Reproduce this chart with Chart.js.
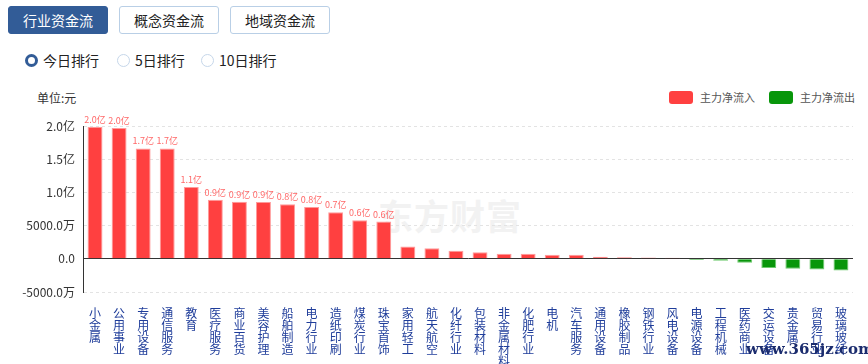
<!DOCTYPE html>
<html>
<head>
<meta charset="utf-8">
<script src="https://cdn.jsdelivr.net/npm/chart.js@4"></script>
<style>
  body { margin: 0; background: #fff; font-family: "Noto Sans CJK SC", "Noto Sans", sans-serif; }
  #page { position: relative; width: 868px; height: 364px; overflow: hidden; }
  .tab { position: absolute; top: 6px; width: 100px; height: 28px; box-sizing: border-box; border: 1px solid #b9cfe6; border-radius: 3px; font-size: 14px; line-height: 26px; text-align: center; color: #222; }
  .tab.on { background: #325c97; border-color: #325c97; color: #fff; }
  .radio { position: absolute; top: 51px; font-size: 14px; line-height: 18px; color: #222; }
  .radio i { display: inline-block; width: 11px; height: 11px; border: 1px solid #c6d7ea; border-radius: 50%; vertical-align: -1px; margin-right: 5px; box-sizing: content-box; }
  .radio.on i { border: 3px solid #325c97; width: 7px; height: 7px; }
  #unit { position: absolute; left: 37px; top: 89px; font-size: 12px; color: #333; }
  .leg { position: absolute; top: 90px; font-size: 11px; color: #555; line-height: 14px; }
  .leg b { display: inline-block; width: 24px; height: 13px; border-radius: 3px; vertical-align: -2px; margin-right: 7px; }
  #mark { position: absolute; left: 378px; top: 189px; font-size: 35px; font-weight: bold; color: #f2f2f2; letter-spacing: 1px; }
  #site { position: absolute; left: 746px; top: 340px; font-family: "DejaVu Serif", "Liberation Serif", serif; font-weight: bold; font-size: 15px; color: #1b2c6e; }
  #box { position: absolute; left: 0; top: 80px; width: 868px; height: 284px; }
</style>
</head>
<body>
<div id="page">
  <div class="tab on" style="left:8px">行业资金流</div>
  <div class="tab" style="left:119px">概念资金流</div>
  <div class="tab" style="left:230px">地域资金流</div>
  <div class="radio on" style="left:25px"><i></i>今日排行</div>
  <div class="radio" style="left:117px"><i></i>5日排行</div>
  <div class="radio" style="left:201px"><i></i>10日排行</div>
  <div id="unit">单位:元</div>
  <div class="leg" style="left:669px"><b style="background:#ff4040"></b>主力净流入</div>
  <div class="leg" style="left:769px"><b style="background:#08960a"></b>主力净流出</div>
  <div id="mark">东方财富</div>
  <div id="box"><canvas id="flowChart"></canvas></div>
  <div id="site">www.365jz.com</div>
</div>
<script>
// 行业 names, in chart order
const industries = [
  "小金属", "公用事业", "专用设备", "通信服务", "教育", "医疗服务", "商业百货", "美容护理",
  "船舶制造", "电力行业", "造纸印刷", "煤炭行业", "珠宝首饰", "家用轻工", "航天航空", "化纤行业",
  "包装材料", "非金属材料", "化肥行业", "电机", "汽车服务", "通用设备", "橡胶制品", "钢铁行业",
  "风电设备", "电源设备", "工程机械", "医药商业", "交运设备", "贵金属", "贸易行业", "玻璃玻纤"
];
// 主力净流入 (亿元), first 25 industries
const inflow = [1.99, 1.97, 1.66, 1.66, 1.08, 0.89, 0.86, 0.855, 0.82, 0.78, 0.70, 0.58, 0.56,
  0.185, 0.16, 0.12, 0.10, 0.075, 0.075, 0.06, 0.06, 0.03, 0.025, 0.018, 0.016];
// 主力净流出 (亿元), last 7 industries
const outflow = [-0.018, -0.03, -0.06, -0.14, -0.15, -0.16, -0.175];
const yTicks = { min: -0.5, max: 2.0, step: 0.5 };

const inData = industries.map((_, i) => (i < inflow.length ? inflow[i] : null));
const outData = industries.map((_, i) => (i >= inflow.length ? outflow[i - inflow.length] : null));

function fmtYi(v) {
  if (v === 0) return "0.0";
  if (Math.abs(v) >= 1) return v.toFixed(1) + "亿";
  return (v * 10000).toFixed(1) + "万";
}

const barLabels = {
  id: "barLabels",
  afterDatasetsDraw(chart) {
    const ctx = chart.ctx;
    const meta = chart.getDatasetMeta(0);
    ctx.save();
    ctx.font = "9px 'Noto Sans CJK SC', sans-serif";
    ctx.fillStyle = "#ff6868";
    ctx.textAlign = "center";
    ctx.textBaseline = "bottom";
    meta.data.forEach((bar, i) => {
      const v = inData[i];
      if (v == null || v < 0.5) return;
      ctx.fillText(v.toFixed(1) + "亿", bar.x, bar.y - 3);
    });
    ctx.restore();
  }
};

new Chart(document.getElementById("flowChart"), {
  type: "bar",
  data: {
    labels: industries.map((s) => s.split("")),
    datasets: [
      { label: "主力净流入", data: inData, backgroundColor: "#ff4040", borderColor: "#ff9a9a", borderWidth: 1 },
      { label: "主力净流出", data: outData, backgroundColor: "#08960a", borderColor: "#6fcb6f", borderWidth: 1 }
    ]
  },
  options: {
    responsive: true,
    maintainAspectRatio: false,
    animation: false,
    layout: { padding: { top: 46, right: 15, left: 0, bottom: 0 } },
    plugins: { legend: { display: false }, tooltip: { enabled: false } },
    datasets: { bar: { barPercentage: 0.62, categoryPercentage: 1, skipNull: true } },
    scales: {
      x: {
        stacked: true,
        grid: { display: false },
        border: { display: false },
        ticks: {
          autoSkip: false, maxRotation: 0, minRotation: 0, padding: 7,
          color: "#1f3d9a",
          font: { size: 12, family: "'Noto Sans CJK SC', sans-serif", lineHeight: 1.0 }
        },
        afterFit(scale) { scale.height = 72; }
      },
      y: {
        min: yTicks.min,
        max: yTicks.max,
        grid: {
          drawTicks: false,
          color: (c) => (c.tick && c.tick.value === 0 ? "#333" : "#e3e3e3")
        },
        border: {
          display: true, color: "#333",
          dash: (c) => (c.tick && c.tick.value === 0 ? [] : [3, 3])
        },
        ticks: {
          stepSize: yTicks.step, padding: 8, color: "#333",
          font: { size: 12, family: "'Noto Sans CJK SC', sans-serif" },
          callback: (v) => fmtYi(v)
        },
        afterFit(scale) { scale.width = 83; }
      }
    }
  },
  plugins: [barLabels]
});
</script>
</body>
</html>
